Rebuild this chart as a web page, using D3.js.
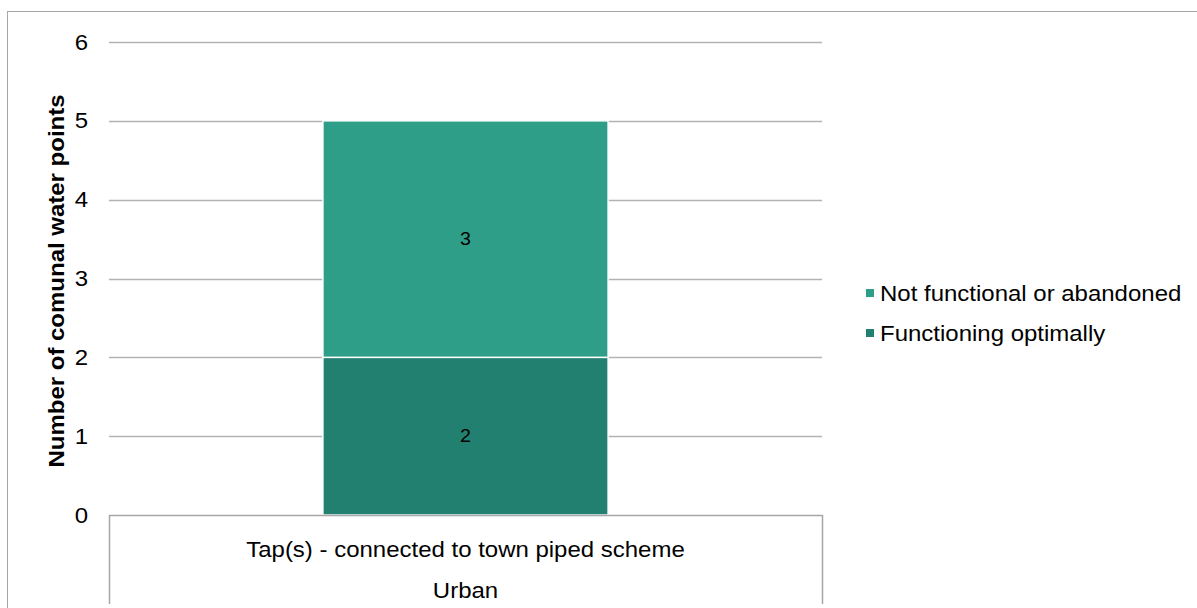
<!DOCTYPE html>
<html>
<head>
<meta charset="utf-8">
<script src="https://cdn.jsdelivr.net/npm/d3@7"></script>
<style>
  body { margin: 0; background: #fff; }
  svg text { font-family: "Liberation Sans", Arial, sans-serif; fill: #000; }
</style>
</head>
<body>
<div id="box"></div>
<script>
// chart data
var categories = ["Tap(s) - connected to town piped scheme"];
var groups = ["Urban"];
var seriesNames = ["Functioning optimally", "Not functional or abandoned"];
var functioningOptimally = [2];
var notFunctional = [3];
var yTicks = [0, 1, 2, 3, 4, 5, 6];
var colors = ["#228070", "#2e9e89"];

var width = 1197, height = 608;
var margin = { left: 109, right: 822, top: 42, bottom: 515 };
var stretch = 1.09; // text in the original is drawn a bit wide

var svg = d3.select("#box")
    .append("svg")
    .attr("width", width)
    .attr("height", height);

// outer border
svg.append("rect")
    .attr("x", 7.5).attr("y", 11.5)
    .attr("width", width + 10).attr("height", height)
    .attr("fill", "none")
    .attr("stroke", "#a6a6a6");

var x = d3.scaleBand()
    .domain(categories)
    .range([margin.left, margin.right])
    .paddingInner(0.6)
    .paddingOuter(0.3);

var y = d3.scaleLinear()
    .domain([0, 6])
    .range([margin.bottom, margin.top]);

// grid lines
svg.selectAll(".grid")
    .data(yTicks.filter(function(d) { return d > 0; }))
    .enter()
    .append("line")
    .attr("x1", margin.left).attr("x2", margin.right)
    .attr("y1", function(d) { return Math.round(y(d)) + 0.5; })
    .attr("y2", function(d) { return Math.round(y(d)) + 0.5; })
    .attr("stroke", "#b3b3b3")
    .attr("stroke-width", 1.3);

// stacked bars
var rows = categories.map(function(c, i) {
    return { cat: c, a: functioningOptimally[i], b: notFunctional[i] };
});
var stack = d3.stack().keys(["a", "b"])(rows);

svg.selectAll(".layer")
    .data(stack)
    .enter()
    .append("g")
    .attr("fill", function(d, i) { return colors[i]; })
    .selectAll("rect")
    .data(function(d) { return d; })
    .enter()
    .append("rect")
    .attr("x", function(d) { return x(d.data.cat); })
    .attr("width", x.bandwidth())
    .attr("y", function(d) { return y(d[1]); })
    .attr("height", function(d) { return y(d[0]) - y(d[1]); })
    .attr("stroke", "#fff")
    .attr("stroke-width", 1.5);

// value labels
stack.forEach(function(layer) {
    layer.forEach(function(d) {
        svg.append("text")
            .attr("x", x(d.data.cat) + x.bandwidth() / 2)
            .attr("y", (y(d[0]) + y(d[1])) / 2)
            .attr("text-anchor", "middle")
            .attr("dominant-baseline", "central")
            .style("font-size", "18px")
            .text(d[1] - d[0]);
    });
});

// y axis tick labels
var yAxis = d3.axisLeft(y).tickValues(yTicks).tickFormat(d3.format("d"))
    .tickSize(0).tickPadding(21);
var yg = svg.append("g")
    .attr("transform", "translate(" + margin.left + ",0)")
    .call(yAxis);
yg.select(".domain").remove();
yg.selectAll("text")
    .style("font-size", "22px")
    .attr("font-family", null);

// x axis baseline and category boxes
svg.append("line")
    .attr("x1", margin.left).attr("x2", margin.right)
    .attr("y1", margin.bottom + 0.5).attr("y2", margin.bottom + 0.5)
    .attr("stroke", "#a6a6a6").attr("stroke-width", 1.5);
[margin.left, margin.right].forEach(function(xx) {
    svg.append("line")
        .attr("x1", xx + 0.5).attr("x2", xx + 0.5)
        .attr("y1", margin.bottom).attr("y2", 604)
        .attr("stroke", "#a6a6a6").attr("stroke-width", 1.5);
});

svg.selectAll(".cat")
    .data(categories)
    .enter()
    .append("text")
    .attr("x", function(d) { return x(d) + x.bandwidth() / 2; })
    .attr("y", 557)
    .attr("text-anchor", "middle")
    .style("font-size", "22px")
    .text(function(d) { return d; });

svg.selectAll(".grp")
    .data(groups)
    .enter()
    .append("text")
    .attr("x", (margin.left + margin.right) / 2)
    .attr("y", 598)
    .attr("text-anchor", "middle")
    .style("font-size", "22px")
    .text(function(d) { return d; });

// y axis title
svg.append("text")
    .attr("transform", "translate(64," + 281 + ") rotate(-90)")
    .attr("text-anchor", "middle")
    .style("font-size", "22px")
    .style("font-weight", "bold")
    .text("Number of comunal water points");

// legend (top entry is the upper series)
var legendItems = seriesNames.slice().reverse();
var legendColors = colors.slice().reverse();
var lg = svg.selectAll(".legend")
    .data(legendItems)
    .enter()
    .append("g")
    .attr("transform", function(d, i) { return "translate(866," + (293 + i * 40) + ")"; });
lg.append("rect")
    .attr("x", 0).attr("y", -4)
    .attr("width", 8).attr("height", 8)
    .attr("fill", function(d, i) { return legendColors[i]; });
lg.append("text")
    .attr("x", 14)
    .attr("y", 0)
    .attr("dominant-baseline", "central")
    .style("font-size", "22px")
    .text(function(d) { return d; });

// widen every text a little to match the original's proportions
svg.selectAll("text").each(function() {
    var len = this.getComputedTextLength();
    if (len > 0) {
        d3.select(this)
            .attr("textLength", len * stretch)
            .attr("lengthAdjust", "spacingAndGlyphs");
    }
});
</script>
</body>
</html>
